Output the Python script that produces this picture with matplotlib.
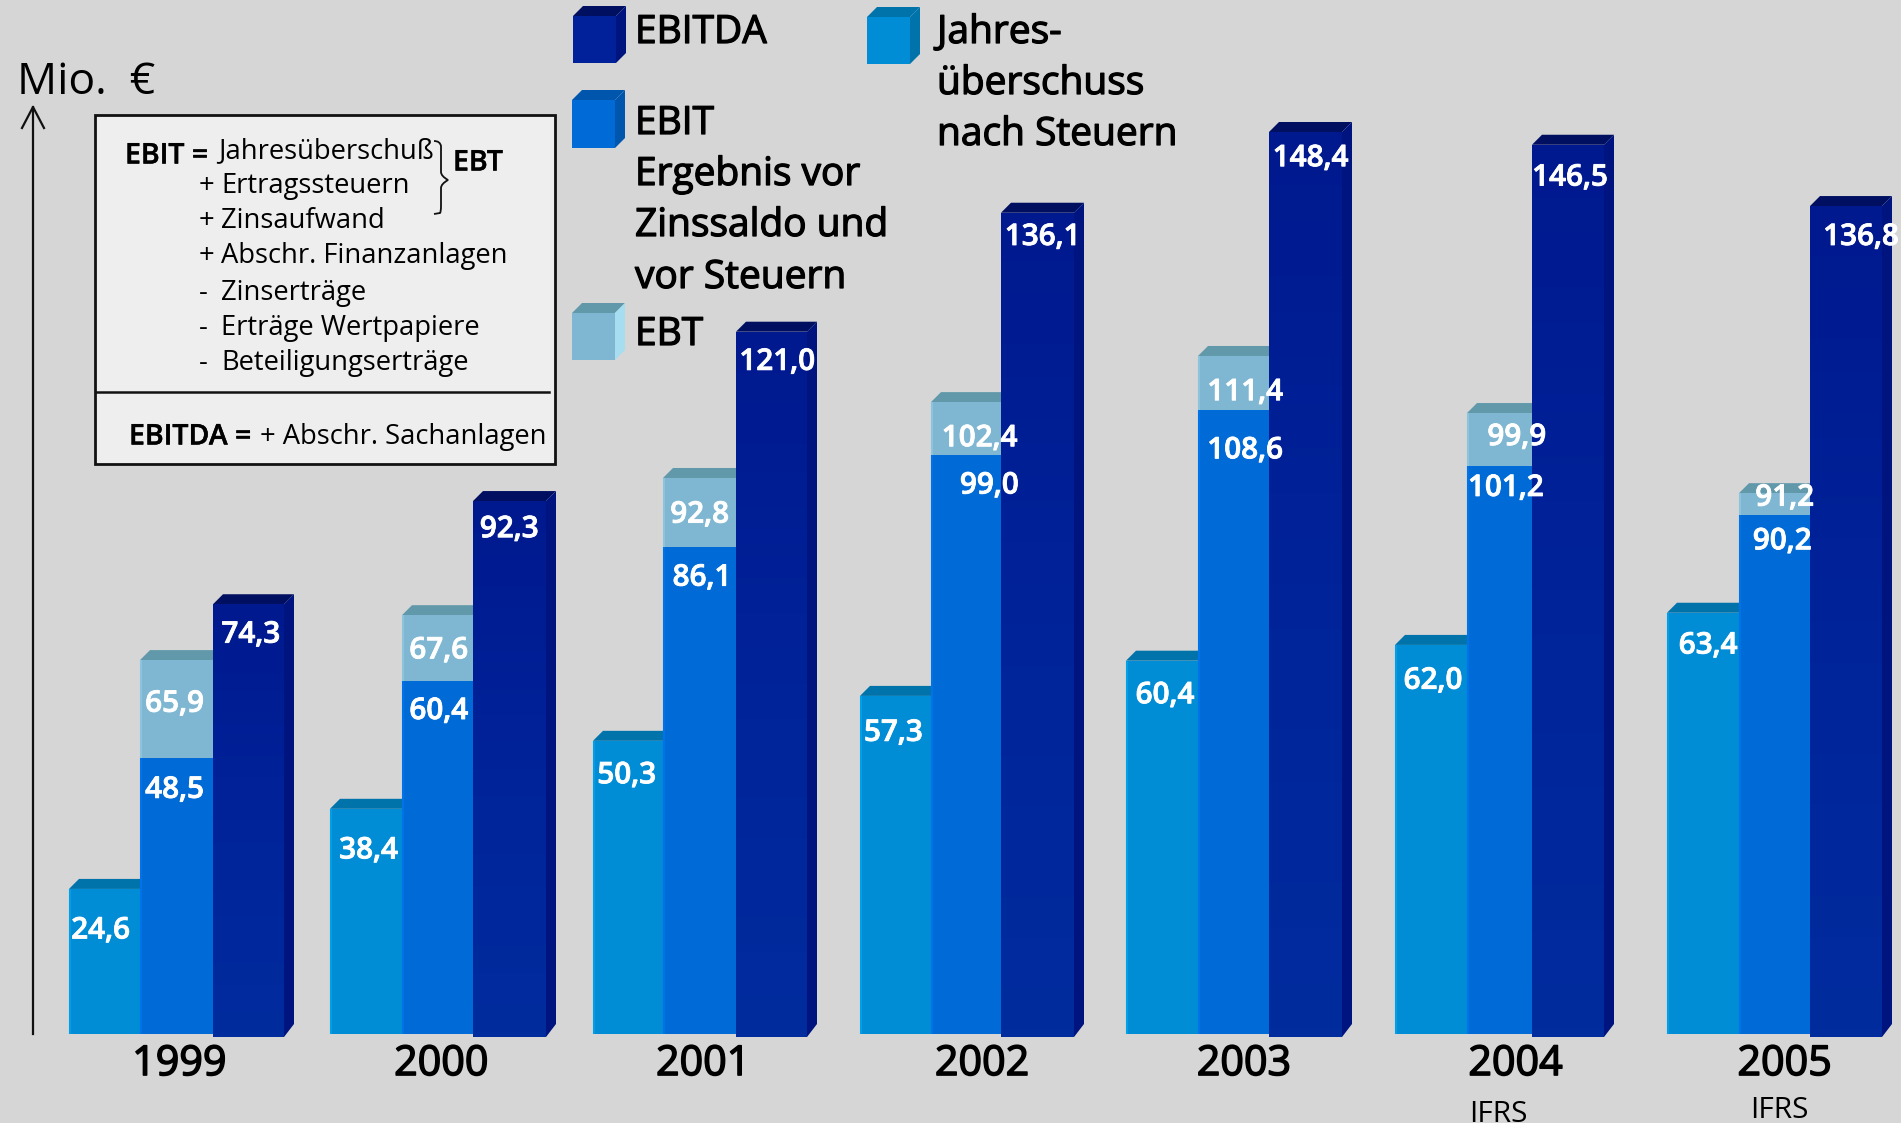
import numpy as np
import matplotlib
matplotlib.use("Agg")
import matplotlib.pyplot as plt
import matplotlib.patheffects as pe
from matplotlib.patches import Polygon, PathPatch, Rectangle
from matplotlib.path import Path
from matplotlib.colors import LinearSegmentedColormap

# ---- data -----
years = ["1999", "2000", "2001", "2002", "2003", "2004", "2005"]
# bar heights as drawn in the picture (Mio. EUR)
jahres_drawn = [23.9, 37.1, 48.3, 55.7, 61.5, 64.1, 69.4]
ebit_drawn = [45.5, 58.2, 80.2, 95.4, 102.8, 93.6, 85.5]
ebt_drawn = [61.6, 69.0, 91.6, 104.1, 111.7, 102.3, 89.1]
ebitda_drawn = [70.8, 87.8, 115.7, 135.3, 148.6, 146.5, 136.4]
# printed value labels
jahres_labels = ["24,6", "38,4", "50,3", "57,3", "60,4", "62,0", "63,4"]
ebit_labels = ["48,5", "60,4", "86,1", "99,0", "108,6", "101,2", "90,2"]
ebt_labels = ["65,9", "67,6", "92,8", "102,4", "111,4", "99,9", "91,2"]
ebitda_labels = ["74,3", "92,3", "121,0", "136,1", "148,4", "146,5", "136,8"]

# ---- layout (pixels) -----
W, H = 1901, 1123
BASE = 1034
SCALE = 6.07
DEPTH = 10
g_edges = [[69, 140, 213, 284], [330, 402, 473, 546], [593, 663, 736, 807],
           [860, 931, 1001, 1074], [1126, 1198, 1269, 1342],
           [1395, 1467, 1532, 1604], [1667, 1739, 1810, 1882]]
k = 1901 / 1568
jahres_xy = [(83, 765), (304, 699), (517, 637), (737, 602), (961, 571), (1182, 559), (1409, 530)]
ebit_xy = [(144, 649), (362, 584), (579, 474), (816, 398), (1027, 369), (1242, 400), (1470, 444)]
ebt_xy = [(144, 578), (362, 534), (577, 422), (808, 359), (1027, 321), (1251, 358), (1472, 408)]
ebitda_xy = [(207, 521), (420, 434), (641, 296), (860, 193), (1081, 128), (1295, 144), (1535, 193)]
year_x = [148, 364, 580, 810, 1026, 1250, 1472]

COL = {
    "jahres": dict(front="#008DD6", top="#0073AB", side="#0073AB", edge="#00A0E8"),
    "ebit": dict(front="#006AD6", top="#0056AC", side="#0056AC", edge="#0072EA"),
    "ebt": dict(front="#7FB7D2", top="#6199AB", side="#A6DDF0", edge="#8CC4DE"),
    "ebitda": dict(front="#00219A", top="#000F60", side="#00147F", edge="#00219A"),
}
BG = "#D6D6D6"
FONT = "Open Sans"
plt.rcParams["font.family"] = [FONT, "DejaVu Sans"]

fig = plt.figure(figsize=(W / 100, H / 100), dpi=100, facecolor=BG)
ax = fig.add_axes([0, 0, 1, 1])
ax.set_xlim(0, W)
ax.set_ylim((BASE - H) / SCALE, BASE / SCALE)
ax.axis("off")
ov = fig.add_axes([0, 0, 1, 1], facecolor="none")
ov.set_xlim(0, W)
ov.set_ylim(H, 0)
ov.axis("off")

dy = DEPTH / SCALE
grad = LinearSegmentedColormap.from_list("g", ["#00198F", "#00239A", "#002C9E"])


def draw_bar(x0, x1, h, c, z, bottom=0.0, side=False):
    bar = ax.bar(x0, h - bottom, bottom=bottom, width=x1 - x0, align="edge",
                 color=COL[c]["front"], linewidth=0, zorder=z)[0]
    ax.add_patch(Polygon([(x0, h), (x0 + DEPTH, h + dy), (x1 + DEPTH, h + dy), (x1, h)],
                         closed=True, fc=COL[c]["top"], ec="none", zorder=z - 0.1))
    if side:
        ax.add_patch(Polygon([(x1, bottom), (x1 + DEPTH, bottom + dy + 0.5),
                              (x1 + DEPTH, h + dy), (x1, h)],
                             closed=True, fc=COL[c]["side"], ec="none", zorder=z - 0.1))
    return bar


for i, ed in enumerate(g_edges):
    x0, x1, x2, x3 = ed
    draw_bar(x0, x1, jahres_drawn[i], "jahres", 2)
    ax.plot([x0 + 1, x0 + 1], [0, jahres_drawn[i]], color=COL["jahres"]["edge"], lw=1.5, zorder=2.1,
            solid_capstyle="butt")
    draw_bar(x1, x2, ebt_drawn[i], "ebt", 3)
    ax.plot([x1 + 1, x1 + 1], [ebit_drawn[i], ebt_drawn[i]], color=COL["ebt"]["edge"], lw=1.5, zorder=3.2,
            solid_capstyle="butt")
    ax.bar(x1, ebit_drawn[i], width=x2 - x1, align="edge", color=COL["ebit"]["front"], linewidth=0, zorder=3.1)
    ax.plot([x1 + 1, x1 + 1], [0, ebit_drawn[i]], color=COL["ebit"]["edge"], lw=1.5, zorder=3.2,
            solid_capstyle="butt")
    b = draw_bar(x2, x3, ebitda_drawn[i], "ebitda", 4, bottom=-0.5, side=True)
    im = ax.imshow(np.linspace(0, 1, 100).reshape(-1, 1), cmap=grad, aspect="auto",
                   extent=(x2, x3, -0.5, ebitda_drawn[i]), origin="upper", zorder=4.05)
    im.set_clip_path(b)
ax.set_xlim(0, W)
ax.set_ylim((BASE - H) / SCALE, BASE / SCALE)

TXT_DY = 3  # optical correction of the font's vertical centre

# ---- value labels -----
for labels, xy in [(jahres_labels, jahres_xy), (ebit_labels, ebit_xy),
                   (ebt_labels, ebt_xy), (ebitda_labels, ebitda_xy)]:
    for s, (x, y) in zip(labels, xy):
        ov.text(x * k, y * k + TXT_DY, s, color="white", fontsize=21.4, fontweight="semibold",
                ha="center", va="center", zorder=10,
                path_effects=[pe.withStroke(linewidth=0.6, foreground="white")])

medium = [pe.withStroke(linewidth=1.1, foreground="black")]
for s, x in zip(years, year_x):
    ov.text(x * k, 875 * k + 4, s, fontsize=29.7, ha="center", va="center", color="black", path_effects=medium)
ov.text(1498, 1115, "IFRS", fontsize=21.5, ha="center", va="center", color="black")
ov.text(1779, 1110, "IFRS", fontsize=21.5, ha="center", va="center", color="black")

# ---- axis arrow -----
ov.plot([33, 33], [1034, 107], color="#111111", lw=1.6)
ov.plot([22, 33, 44], [128, 107, 128], color="#111111", lw=1.6)
ov.text(17, 83, "Mio.  €", fontsize=32, ha="left", va="center", color="black")

# ---- formula box -----
ov.add_patch(Rectangle((95, 115), 460, 349, fc="#EEEEEE", ec="#111111", lw=2, zorder=5))
ov.plot([96, 549], [392, 392], color="#111111", lw=1.8, zorder=6)
BOX_FS = 19.7
BOLD_FS = 20.5
boxb = [pe.withStroke(linewidth=0.3, foreground="black")]
ov.text(125, 153 + TXT_DY, "EBIT =", fontsize=BOLD_FS, ha="left", va="center", zorder=6, path_effects=boxb,
        fontweight="semibold")
ov.text(218, 148 + TXT_DY, "Jahresüberschuß", fontsize=BOX_FS, ha="left", va="center", zorder=6)
ov.text(453, 160 + TXT_DY, "EBT", fontsize=BOLD_FS, ha="left", va="center", zorder=6, path_effects=boxb,
        fontweight="semibold")
box_rows = [("+", "Ertragssteuern", 183), ("+", "Zinsaufwand", 218),
            ("+", "Abschr. Finanzanlagen", 253), ("-", "Zinserträge", 290),
            ("-", "Erträge Wertpapiere", 325), ("-", "Beteiligungserträge", 360)]
for sign, s, y in box_rows:
    ov.text(199, y + TXT_DY, sign, fontsize=BOX_FS, ha="left", va="center", zorder=6)
    ov.text(221, y + TXT_DY, s, fontsize=BOX_FS, ha="left", va="center", zorder=6)
ov.text(129, 434 + TXT_DY, "EBITDA =", fontsize=BOLD_FS, ha="left", va="center", zorder=6, path_effects=boxb,
        fontweight="semibold")
ov.text(260, 434 + TXT_DY, "+ Abschr. Sachanlagen", fontsize=BOX_FS, ha="left", va="center", zorder=6)
# brace
verts = [(434, 141), (440, 141), (441, 146), (441, 152), (441, 172), (441, 176), (448, 180),
         (441, 184), (441, 188), (441, 206), (441, 212), (440, 213), (434, 214)]
codes = [Path.MOVETO, Path.CURVE3, Path.CURVE3, Path.LINETO, Path.LINETO, Path.CURVE3, Path.CURVE3,
         Path.CURVE3, Path.CURVE3, Path.LINETO, Path.CURVE3, Path.CURVE3, Path.LINETO]
ov.add_patch(PathPatch(Path(verts, codes), fc="none", ec="#111111", lw=1.3, zorder=6))


# ---- legend -----
def cube(x0, x1, y0, y1, c):
    d = DEPTH
    ov.add_patch(Polygon([(x0, y0), (x0 + d, y0 - d), (x1 + d, y0 - d), (x1, y0)], fc=COL[c]["top"], ec="none"))
    ov.add_patch(Polygon([(x1, y0), (x1 + d, y0 - d), (x1 + d, y1 - d), (x1, y1)], fc=COL[c]["side"], ec="none"))
    ov.add_patch(Rectangle((x0, y0), x1 - x0, y1 - y0, fc=COL[c]["front"], ec="none"))


cube(573, 616, 16, 63, "ebitda")
cube(572, 615, 100, 148, "ebit")
cube(572, 615, 313, 360, "ebt")
cube(867, 910, 17, 64, "jahres")
LEG_FS = 28
med_s = [pe.withStroke(linewidth=0.9, foreground="black")]
for s, x, y in [("EBITDA", 635, 30), ("EBIT", 635, 121), ("Ergebnis vor", 635, 172),
                ("Zinssaldo und", 635, 223), ("vor Steuern", 635, 275), ("EBT", 635, 332),
                ("Jahres-", 937, 30), ("überschuss", 937, 81), ("nach Steuern", 937, 132)]:
    ov.text(x, y + TXT_DY, s, fontsize=LEG_FS, ha="left", va="center", color="black", path_effects=med_s)

fig.savefig("out.png", dpi=100, facecolor=BG)
